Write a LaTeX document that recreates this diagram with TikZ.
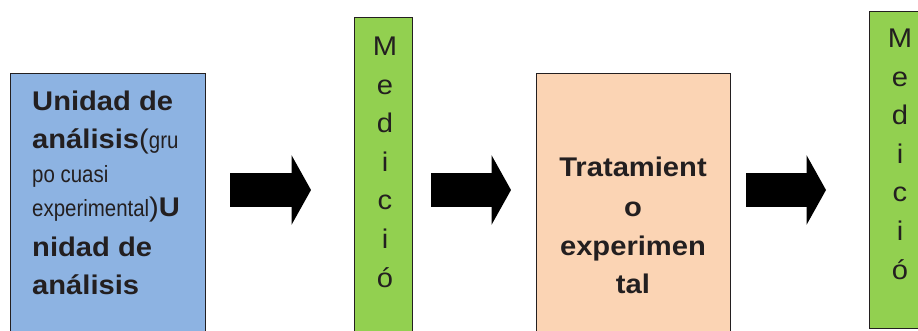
\documentclass[tikz,border=0pt]{standalone}
\usepackage{fontspec}
\setmainfont{Liberation Sans}[FakeStretch=1.08]
\newfontfamily\narrowfont{Liberation Sans}[FakeStretch=0.87]
\usetikzlibrary{arrows.meta}
\definecolor{boxblue}{RGB}{141,179,226}
\definecolor{boxgreen}{RGB}{146,208,80}
\definecolor{boxorange}{RGB}{251,212,180}
\definecolor{ink}{RGB}{35,31,32}
\newcommand{\smalltxt}{\narrowfont\mdseries\fontsize{23.5}{26}\selectfont}
\tikzset{
  box/.style={draw=ink, line width=1.2pt, inner sep=0pt},
  bigtxt/.style={font=\fontsize{27}{32}\selectfont\bfseries, text=ink, inner sep=0pt},
  lettr/.style={font=\fontsize{27}{30}\selectfont, text=ink, inner sep=0pt, anchor=base},
  blockarrow/.style={line width=34pt, draw=black, -{Triangle[length=19.5pt,width=69pt]}}
}
\begin{document}
\begin{tikzpicture}[x=1pt,y=-1pt]
\useasboundingbox (0,0) rectangle (918,331);
\clip (0,0) rectangle (918,331);
% boxes
\node[box, fill=boxblue, minimum width=195pt, minimum height=300pt, anchor=north west] (unidad) at (10,73) {};
\node[box, fill=boxgreen, minimum width=58pt, minimum height=330pt, anchor=north west] (med1) at (354,17) {};
\node[box, fill=boxorange, minimum width=194pt, minimum height=300pt, anchor=north west] (trat) at (536,73) {};
\node[box, fill=boxgreen, minimum width=60pt, minimum height=317pt, anchor=north west] (med2) at (869,11) {};
% texts of blue box
\node[bigtxt, anchor=base west] (u1) at (32,111) {Unidad de};
\node[bigtxt, anchor=base west] (u2) at (32,149) {análisis{\mdseries(}{\smalltxt gru}};
\node[bigtxt, anchor=base west] (u3) at (32,183) {\smalltxt po cuasi};
\node[bigtxt, anchor=base west] (u4) at (32,216) {{\smalltxt experimental}{\mdseries)}U};
\node[bigtxt, anchor=base west] (u5) at (32,256) {nidad de};
\node[bigtxt, anchor=base west] (u6) at (32,294) {análisis};
% texts of orange box
\node[bigtxt, anchor=base] (t1) at (633,177) {Tratamient};
\node[bigtxt, anchor=base] (t2) at (633,217) {o};
\node[bigtxt, anchor=base] (t3) at (633,255) {experimen};
\node[bigtxt, anchor=base] (t4) at (633,293) {tal};
% Medición letters
\foreach \l [count=\i] in {M,e,d,i,c,i,ó} {
  \node[lettr] (ma\i) at (385,{56+38.5*(\i-1)}) {\l};
  \node[lettr] (mb\i) at (900,{48+38.5*(\i-1)}) {\l};
}
% arrows
\coordinate (a1s) at (230,190); \coordinate (a1e) at (311,190);
\coordinate (a2s) at (431,190); \coordinate (a2e) at (511,190);
\coordinate (a3s) at (746,190); \coordinate (a3e) at (826,190);
\draw[blockarrow] (a1s) -- (a1e);
\draw[blockarrow] (a2s) -- (a2e);
\draw[blockarrow] (a3s) -- (a3e);
\end{tikzpicture}
\end{document}
